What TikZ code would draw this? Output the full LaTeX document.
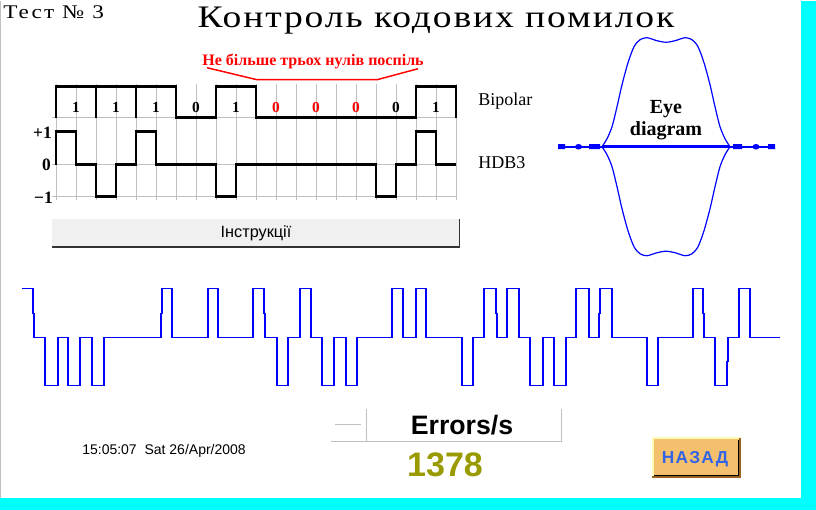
\documentclass[tikz,border=0pt]{standalone}
\usepackage{fontspec}
\setmainfont{Liberation Serif}
\newfontfamily\arial{Liberation Sans}
\newfontfamily\wideserif[FakeStretch=1.2]{Liberation Serif}
\usetikzlibrary{positioning}
\definecolor{gridgray}{RGB}{192,192,192}
\definecolor{screencyan}{RGB}{0,255,255}
\definecolor{countolive}{RGB}{153,153,0}
\definecolor{btnorange}{RGB}{245,192,110}
\definecolor{btnlight}{RGB}{255,250,180}
\definecolor{btndark}{RGB}{150,100,30}
\definecolor{btnblue}{RGB}{50,100,230}
\definecolor{btngray}{RGB}{240,240,240}
\tikzset{
  % Grid of the code chart
  gridline/.style={gridgray, line width=0.75pt},
  % Black pulse trains
  pulse/.style={line width=2.2pt},
  % Blue traces
  trace/.style={blue, line width=1.1pt},
  eyeline/.style={blue, line width=0.9pt},
  % Texts
  bit/.style={font=\fontsize{11.5}{12}\selectfont\bfseries, anchor=base},
  axis/.style={font=\fontsize{13}{13}\selectfont\bfseries, anchor=base east},
  chartlabel/.style={font=\fontsize{13.5}{14}\selectfont, anchor=base west},
  sanslabel/.style={font=\arial\fontsize{10.5}{11}\selectfont},
}
\begin{document}
\begin{tikzpicture}[x=0.75pt, y=-0.75pt, inner sep=0pt]
  % screen
  \fill[white] (0,0) rectangle (816,509);
  \fill[screencyan] (801,0) rectangle (816,509);
  \fill[screencyan] (0,497) rectangle (816,509);
  \draw[gridgray, line width=1.1pt] (0.7,0) -- (0.7,497);

  % headings
  \node[anchor=base west, font=\wideserif\fontsize{14.5}{15}\selectfont\addfontfeature{LetterSpace=11}]
    (testno) at (3,18) {Тест № 3};
  \node[anchor=base, font=\wideserif\fontsize{23.5}{24}\selectfont\addfontfeature{LetterSpace=6}]
    (title) at (436,27) {Контроль кодових помилок};

  % chart grid
  \foreach \x in {56,76,...,456}
    \draw[gridline] (\x,83) -- (\x,199);
  \foreach \y in {117,164,196}
    \draw[gridline] (52,\y) -- (456,\y);

  % bipolar line
  \draw[pulse] (56,117) |- (176,86) -- (176,117) -- (216,117) |- (256,86) -- (256,117)
    -- (416,117) |- (456,86) -- (456,117);
  \draw[pulse] (96,86) -- (96,117) (136,86) -- (136,117);
  \foreach \b/\c [count=\i from 0] in {1/black,1/black,1/black,0/black,1/black,
      0/red,0/red,0/red,0/black,1/black}
    \node[bit, \c] (bit\i) at (76+40*\i,111.5) {\b};

  % HDB3 line
  \draw[pulse] (56,164) |- (76,131) |- (96,164) |- (116,196) |- (136,164) |- (156,131)
    |- (216,164) |- (236,196) |- (376,164) |- (396,196) |- (416,164) |- (436,131) |- (456,164);

  \node[axis] (lvlp) at (52,138) {+1};
  \node[axis] (lvlz) at (51,170) {0};
  \node[axis] (lvlm) at (53,203) {−1};
  \node[chartlabel] (bipolar) at (478,105) {Bipolar};
  \node[chartlabel] (hdb) at (478,168) {HDB3};

  % three zeros note
  \node[anchor=base, red, font=\fontsize{12}{13}\selectfont\bfseries]
    (nozeros) at (313,65) {Не більше трьох нулів поспіль};
  \draw[red, line width=1.1pt] (207,67) -- (257,79) -- (377,79) -- (418,68);

  % instructions button
  \fill[btngray] (52,218) rectangle (460,247);
  \draw[black!80, line width=1.1pt] (52,246.5) -| (459.5,218);
  \node[sanslabel, font=\arial\fontsize{12.2}{13}\selectfont] (instr) at (256,232.5) {Інструкції};

  % eye diagram
  \foreach \s in {1,-1}
    \draw[eyeline, shift={(666,146)}, yscale=\s] plot[smooth] coordinates {(-64,0) (-59,-8)
      (-54,-20) (-49,-40) (-44,-62) (-38,-84) (-32,-100) (-26,-107) (-19,-109) (-9,-106)
      (0,-104.5) (9,-106) (19,-109) (26,-107) (32,-100) (38,-84) (44,-62) (49,-40)
      (54,-20) (59,-8) (64,0)};
  \draw[blue, line width=2pt] (602,146) -- (730,146);
  \draw[blue, line width=1.5pt] (558,146) -- (602,146) (730,146) -- (775,146);
  \fill[blue] (558,143.5) rectangle (565,148.5) (589,143.5) rectangle (600,148.5)
    (733,143.5) rectangle (742,148.5) (768,143.5) rectangle (775,148.5);
  \fill[blue] (578.5,146) ellipse (3.5 and 2.8) (756,146) ellipse (3.5 and 2.8);
  \node[align=center, anchor=base, font=\fontsize{15}{16.7}\selectfont\bfseries]
    (eye) at (666,135) {Eye\\diagram};

  % line signal
  \draw[trace] (22,288) -| (33,313) -| (34,337) -| (45,385) -| (58,337) -| (68,385)
    -| (80,337) -| (92,385) -| (104,337) -| (161,313) -| (162,288) -| (172,337)
    -| (208,288) -| (218,337) -| (253,288) -| (264,313) -| (265,337) -| (277,385)
    -| (288,337) -| (300,288) -| (311,337) -| (322,385) -| (334,337) -| (346,385)
    -| (357,337) -| (392,288) -| (403,337) -| (416,288) -| (426,337) -| (462,385)
    -| (473,337) -| (484,288) -| (496,313) -| (497,337) -| (507,288) -| (519,337)
    -| (530,385) -| (543,337) -| (554,385) -| (566,337) -| (576,288) -| (589,337)
    -| (599,313) -| (600,288) -| (612,337) -| (647,385) -| (658,337) -| (693,288)
    -| (703,313) -| (704,337) -| (715,385) -| (727,361) -| (728,337) -| (739,288)
    -| (750,337) -- (780,337);

  % error counter
  \draw[gridline] (331,441) -- (561,441) (366,408) -- (366,441) (561,408) -- (561,441)
    (335,424) -- (361,424);
  \node[anchor=base, font=\arial\fontsize{20}{20}\selectfont\bfseries] (errlabel) at (462,434) {Errors/s};
  \node[anchor=base, countolive, font=\arial\fontsize{25.5}{26}\selectfont\bfseries]
    (errcount) at (445,476) {1378};
  \node[sanslabel, anchor=base west] (clock) at (82,454) {15:05:07~~Sat 26/Apr/2008};

  % back button
  \fill[btnorange] (652,437) rectangle (741,477);
  \draw[btnlight, line width=1.5pt] (652.75,477) |- (741,437.75);
  \draw[btndark, line width=1.5pt] (652,476.25) -| (740.25,437);
  \draw[black, line width=0.75pt] (654,474.5) -| (738.5,439);
  \node[anchor=base, btnblue, font=\arial\fontsize{13}{13}\selectfont\bfseries\addfontfeature{LetterSpace=7}]
    (back) at (695,462.7) {НАЗАД};
\end{tikzpicture}
\end{document}
